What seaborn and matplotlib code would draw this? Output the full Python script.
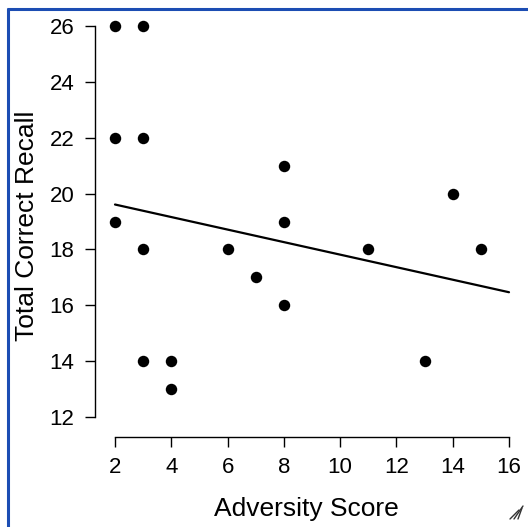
import matplotlib
matplotlib.use("Agg")
import matplotlib.pyplot as plt
from matplotlib.lines import Line2D
import seaborn as sns
import pandas as pd

adversity = [2, 3, 2, 3, 2, 3, 8, 8, 14, 6, 11, 15, 7, 8, 3, 4, 13, 4]
recall = [26, 26, 22, 22, 19, 18, 21, 19, 20, 18, 18, 18, 17, 16, 14, 14, 14, 13]
x_ticks = [2, 4, 6, 8, 10, 12, 14, 16]
y_ticks = [12, 14, 16, 18, 20, 22, 24, 26]

df = pd.DataFrame({"Adversity Score": adversity, "Total Correct Recall": recall})

sns.set_theme(style="white")
plt.rcParams["font.family"] = ["Liberation Sans", "DejaVu Sans"]

W, H = 528, 527
fig = plt.figure(figsize=(W / 100, H / 100), dpi=100)
fig.patch.set_facecolor("white")

# axes in pixel coordinates
L, R, T, B = 95, 517, 15, 437
ax = fig.add_axes([L / W, 1 - B / H, (R - L) / W, (B - T) / H])

ax.set_xlim(x_ticks[0], x_ticks[-1])
sns.regplot(data=df, x="Adversity Score", y="Total Correct Recall", ax=ax,
            ci=None, truncate=False,
            scatter_kws=dict(s=68, color="black", alpha=1, linewidths=0, zorder=3),
            line_kws=dict(color="black", linewidth=1.6))

xpx = (509 - 115) / 14
ypx = (417 - 26) / 14
ax.set_xlim(2 - (115 - L) / xpx, 16 + (R - 509) / xpx)
ax.set_ylim(12 - (B - 417) / ypx, 26 + (26 - T) / ypx)

ax.set_xticks(x_ticks)
ax.set_yticks(y_ticks)
for s in ["top", "right"]:
    ax.spines[s].set_visible(False)
ax.spines["left"].set_bounds(12, 26)
ax.spines["bottom"].set_bounds(2, 16)
for s in ["left", "bottom"]:
    ax.spines[s].set_color("black")
    ax.spines[s].set_linewidth(1.0)
ax.tick_params(axis="both", which="major", length=7.2, width=1.0, color="black",
               labelsize=16, pad=7.5, labelcolor="black", direction="out")
ax.tick_params(bottom=True, left=True)
ax.set_xlabel("Adversity Score", fontsize=19, labelpad=13.5, color="black")
ax.set_ylabel("Total Correct Recall", fontsize=19, labelpad=7.5, color="black")
ax.grid(False)

# frame (top & left blue border)
fig.add_artist(Line2D([7 / W, 1], [1 - 8.5 / H, 1 - 8.5 / H], transform=fig.transFigure,
                      color="#1c4db3", linewidth=2.2, solid_capstyle="butt"))
fig.add_artist(Line2D([8 / W, 8 / W], [0, 1 - 7.5 / H], transform=fig.transFigure,
                      color="#1c4db3", linewidth=2.2, solid_capstyle="butt"))

# resize handle
for off in (0, 4, 8):
    fig.add_artist(Line2D([(510 + off) / W, (519 + off) / W if off < 8 else 522 / W],
                          [1 - 519 / H, 1 - (510 - off) / H if off < 8 else 1 - 508 / H],
                          transform=fig.transFigure, color="#333333", linewidth=1.0))

fig.savefig("out.png", dpi=100, facecolor="white")
